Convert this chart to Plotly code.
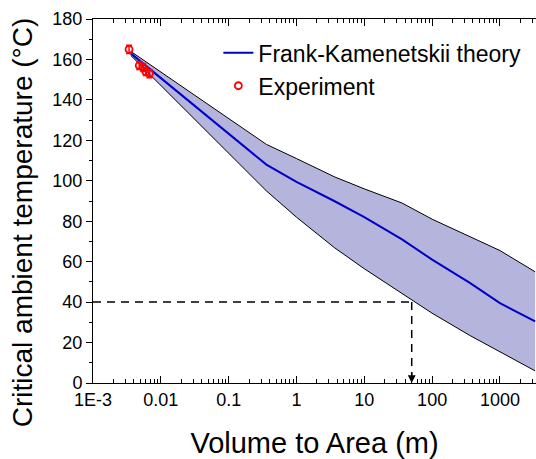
import numpy as np
import plotly.graph_objects as go

# ---- data ----
x_theory = [0.0036, 0.36, 1, 3.6, 10, 36, 100, 360, 1000, 3300]
y_center = [163, 108, 99.5, 90, 82, 71, 61, 49.5, 39.5, 30.5]
y_upper = [164, 118, 111, 102, 96, 89, 81, 72.5, 65.5, 55]
y_lower = [162, 95, 82, 67, 56.5, 44.5, 34.5, 23.5, 15.5, 6]

x_exp = [0.0034, 0.0048, 0.0055, 0.006, 0.0068]
y_exp = [165, 157, 156, 154, 153]
err_exp = [2, 2, 2, 2, 2]

x_ref = [0.001, 50]
y_ref = [40, 40]
x_arrow = [50, 50]
y_arrow = [40, 0]

x_tickvals = [0.001, 0.01, 0.1, 1, 10, 100, 1000]
x_ticktext = ["1E-3", "0.01", "0.1", "1", "10", "100", "1000"]
x_minor = [k * 10.0 ** n for n in range(-3, 4) for k in range(2, 10) if k * 10.0 ** n < 3400]

FONT = "Liberation Sans, Arial, sans-serif"
fig = go.Figure()

# band
fig.add_trace(go.Scatter(x=x_theory, y=y_lower, mode="lines",
                         line=dict(color="black", width=1), showlegend=False,
                         hoverinfo="skip"))
fig.add_trace(go.Scatter(x=x_theory, y=y_upper, mode="lines",
                         line=dict(color="black", width=1), fill="tonexty",
                         fillcolor="#B4B4DC", showlegend=False, hoverinfo="skip"))
# dashed reference lines
fig.add_trace(go.Scatter(x=x_ref, y=y_ref, mode="lines",
                         line=dict(color="black", width=1.5, dash="8px,6px"),
                         showlegend=False, hoverinfo="skip"))
fig.add_trace(go.Scatter(x=x_arrow, y=y_arrow, mode="lines",
                         line=dict(color="black", width=1.5, dash="8px,6px"),
                         showlegend=False, hoverinfo="skip"))
# theory line
fig.add_trace(go.Scatter(x=x_theory, y=y_center, mode="lines",
                         line=dict(color="#0000C8", width=2),
                         name="Frank-Kamenetskii theory", legendgroup="a"))
# experiment
fig.add_trace(go.Scatter(x=x_exp, y=y_exp, mode="markers",
                         marker=dict(symbol="circle-open", size=7, color="red",
                                     line=dict(width=1.8, color="red")),
                         error_y=dict(type="data", array=err_exp, color="red",
                                      thickness=1.5, width=3),
                         name="Experiment", legendgroup="b"))

fig.add_annotation(x=np.log10(x_arrow[1]), y=y_arrow[1], xref="x", yref="y",
                   ax=0, ay=-12, showarrow=True, arrowhead=2, arrowsize=1.2,
                   arrowwidth=1.3, arrowcolor="black", text="")

# y-axis title as a rotated annotation (centred a little lower than the plot centre)
fig.add_annotation(text="Critical ambient temperature (°C)", xref="paper", yref="paper",
                   x=-0.160, y=0.442, xanchor="center", yanchor="middle",
                   textangle=-90, showarrow=False,
                   font=dict(size=28, family=FONT, color="black"))

fig.update_layout(
    width=536, height=459,
    margin=dict(l=93, r=0, t=19, b=76, autoexpand=False),
    plot_bgcolor="white", paper_bgcolor="white",
    font=dict(family=FONT, color="black", size=18),
    showlegend=True,
    legend=dict(x=0.283, y=0.966, xanchor="left", yanchor="top",
                font=dict(size=23, family=FONT), bgcolor="rgba(0,0,0,0)",
                traceorder="grouped", tracegroupgap=0),
    xaxis=dict(type="log", range=[-3, np.log10(3400)], automargin=False,
               tickvals=x_tickvals, ticktext=x_ticktext,
               ticks="inside", ticklen=7, tickwidth=1, tickcolor="black",
               minor=dict(tickvals=x_minor, ticks="inside", ticklen=4,
                          tickcolor="black", tickwidth=1, showgrid=False),
               showline=True, linecolor="black", linewidth=1, mirror="ticks",
               showgrid=False, zeroline=False,
               tickfont=dict(size=18, family=FONT),
               title=dict(text="Volume to Area (m)", font=dict(size=29, family=FONT),
                          standoff=26)),
    yaxis=dict(range=[0, 180], tick0=0, dtick=20, automargin=False,
               ticks="outside", ticklen=6, tickwidth=1, tickcolor="black",
               minor=dict(dtick=10, tick0=0, ticks="outside", ticklen=3,
                          tickcolor="black", tickwidth=1, showgrid=False),
               showline=True, linecolor="black", linewidth=1, mirror="ticks",
               showgrid=False, zeroline=False,
               tickfont=dict(size=18, family=FONT)),
)

fig.write_html(
    "out.html",
    config={"displayModeBar": False},
    post_script="document.documentElement.style.overflow='hidden';"
                "document.body.style.margin='0';document.body.style.overflow='hidden';",
)
